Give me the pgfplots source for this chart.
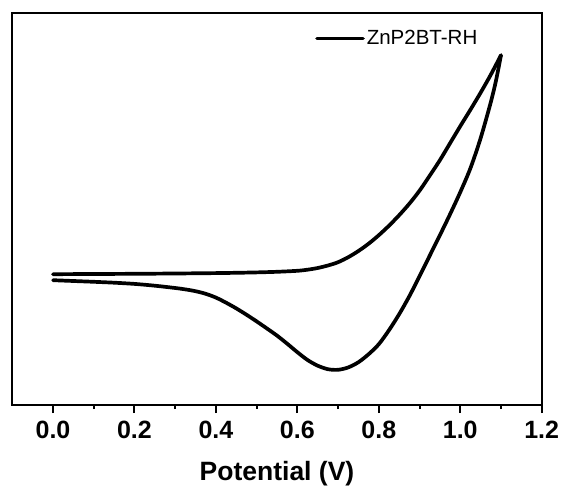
\documentclass[border=0pt]{standalone}
\usepackage{fontspec}
\setmainfont{Liberation Sans}
\usepackage{pgfplots}
\pgfplotsset{compat=1.18}
\begin{document}
\begin{tikzpicture}
\useasboundingbox (-12.3pt,-84.8pt) rectangle (550.7pt,405.2pt);
\begin{axis}[
  width=529.4pt, height=392.5pt, scale only axis,
  xmin=-0.1, xmax=1.2, ymin=0, ymax=392.5,
  xtick={0,0.2,0.4,0.6,0.8,1.0,1.2},
  xticklabels={0.0,0.2,0.4,0.6,0.8,1.0,1.2},
  minor x tick num=1,
  ytick=\empty,
  tick align=outside, xtick pos=bottom,
  major tick length=8pt, minor tick length=4pt,
  every tick/.style={black, line width=2pt},
  axis line style={line width=2.2pt},
  xticklabel style={font=\fontsize{25}{25}\selectfont\bfseries, anchor=base, yshift=-25.3pt},
  xlabel={Potential (V)},
  xlabel style={font=\fontsize{26.5}{26.5}\selectfont\bfseries, at={(axis description cs:0.5,0)}, anchor=base, yshift=-75pt},
  legend style={draw=none, fill=none, at={(axis description cs:0.5718,0.9347)}, anchor=west, inner sep=0pt,
    font=\fontsize{20.5}{20.5}\selectfont, nodes={inner sep=2pt}},
  legend image code/.code={\draw[line width=3.6pt] (0pt,0pt) -- (46pt,0pt);},
  legend cell align=left,
]
\addplot[black, line width=3.7pt, smooth, tension=0.5, line cap=round, line join=round] coordinates {
(0.000,131.0) (0.100,131.2) (0.200,131.4) (0.300,131.7) (0.400,132.1)
(0.450,132.4) (0.500,132.8) (0.550,133.4) (0.600,134.4) (0.625,135.5)
(0.650,137.2) (0.675,139.7) (0.700,143.0) (0.725,148.0) (0.750,154.2)
(0.775,161.5) (0.800,170.0) (0.825,179.5) (0.850,190.0) (0.875,201.5)
(0.900,214.5) (0.925,229.5) (0.950,245.0) (0.975,262.0) (1.000,279.0)
(1.025,295.5) (1.050,312.5) (1.075,330.5) (1.100,350.0)
};
\addlegendentry{ZnP2BT-RH}
\addplot[black, line width=3.7pt, smooth, tension=0.5, line cap=round, line join=round, forget plot] coordinates {
(1.100,350) (1.088,325) (1.075,303) (1.050,267) (1.025,237) (1.000,213)
(0.975,191) (0.950,170) (0.925,149.5) (0.900,129) (0.875,109) (0.850,91)
(0.825,75) (0.800,61) (0.775,51) (0.750,43) (0.725,37.8) (0.700,35.4)
(0.675,36.0) (0.650,39.5) (0.625,45.2) (0.600,53) (0.575,61.5) (0.550,69.6)
(0.525,76.8) (0.500,83.8) (0.475,90.5) (0.450,96.8) (0.425,102.5) (0.400,107.6)
(0.375,111.4) (0.350,114.0) (0.325,115.8) (0.300,117.2) (0.250,119.5)
(0.200,121.3) (0.150,122.5) (0.100,123.4) (0.050,124.2) (0.000,125)
};
\end{axis}
\end{tikzpicture}
\end{document}
